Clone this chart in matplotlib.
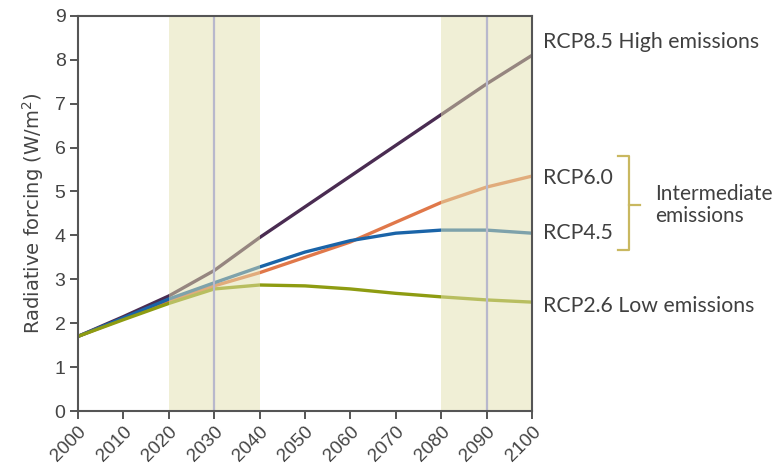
import matplotlib
matplotlib.use("Agg")
import matplotlib.pyplot as plt

# Radiative forcing pathways (W/m^2)
years = [2000, 2010, 2020, 2030, 2040, 2050, 2060, 2070, 2080, 2090, 2100]
rcp85 = [1.70, 2.15, 2.62, 3.20, 3.95, 4.65, 5.35, 6.05, 6.75, 7.45, 8.10]
rcp60 = [1.70, 2.10, 2.50, 2.85, 3.15, 3.50, 3.85, 4.30, 4.75, 5.10, 5.35]
rcp45 = [1.70, 2.12, 2.55, 2.92, 3.28, 3.62, 3.88, 4.05, 4.12, 4.12, 4.05]
rcp26 = [1.70, 2.08, 2.45, 2.78, 2.87, 2.85, 2.78, 2.68, 2.60, 2.53, 2.48]

series_names = ["RCP8.5 High emissions", "RCP6.0", "RCP4.5", "RCP2.6 Low emissions"]
series_values = [rcp85, rcp60, rcp45, rcp26]
series_colors = ["#4a2c52", "#e0784a", "#1a64a8", "#8e9c12"]
label_y = [8.4, 5.3, 4.05, 2.4]

shaded_periods = [(2020, 2040), (2080, 2100)]
marker_years = [2030, 2090]

x_ticks = list(range(2000, 2101, 10))
y_ticks = list(range(0, 10))

fig = plt.figure(figsize=(7.8, 4.66), dpi=100)
ax = fig.add_axes([0.1, 0.118, 0.582, 0.848])

for vals, col in zip(series_values, series_colors):
    ax.plot(years, vals, color=col, lw=2.4, solid_capstyle="butt", zorder=2)

# Time windows drawn over the curves so they tint them
for a, b in shaded_periods:
    ax.axvspan(a, b, color="#e2e0ae", alpha=0.5, lw=0, zorder=3)
for yr in marker_years:
    ax.axvline(yr, color="#b8b8cc", lw=1.6, zorder=4)

ax.set_xlim(2000, 2100)
ax.set_ylim(0, 9)
ax.set_xticks(x_ticks)
ax.set_yticks(y_ticks)
ax.set_xticklabels([str(t) for t in x_ticks], rotation=45, ha="right",
                   rotation_mode="anchor", fontsize=13.5, color="#444444",
                   family="Liberation Sans")
ax.set_yticklabels([str(t) for t in y_ticks], fontsize=14, color="#444444",
                   family="Liberation Sans")
ax.tick_params(axis="both", direction="out", length=6, width=1.4, color="#555555")
ax.tick_params(axis="x", pad=3)
ax.tick_params(axis="y", pad=3)
for s in ax.spines.values():
    s.set_color("#555555")
    s.set_linewidth(1.5)
    s.set_zorder(5)

ax.set_ylabel("Radiative forcing (W/m$^2$)", fontsize=14, color="#444444",
              family="DejaVu Sans", labelpad=6)

for name, ly in zip(series_names, label_y):
    ax.text(2102.5, ly, name, fontsize=15.3, color="#404040", va="center",
            ha="left", family="Lato", clip_on=False)

# Bracket grouping the intermediate pathways
bx0, bx1 = 618 / 780, 629 / 780
btop, bbot = 1 - 156 / 466, 1 - 250 / 466
bmid = 1 - 205 / 466
bcol = "#c9b860"
fig.add_artist(plt.Line2D([bx0, bx1, bx1, bx0], [btop, btop, bbot, bbot],
                          color=bcol, lw=1.6, transform=fig.transFigure))
fig.add_artist(plt.Line2D([bx1, 640 / 780], [bmid, bmid], color=bcol, lw=1.6,
                          transform=fig.transFigure))
fig.text(655 / 780, 1 - 205 / 466, "Intermediate\nemissions", fontsize=15,
         color="#404040", va="center", ha="left", family="Lato", linespacing=1.15)

fig.savefig("out.png", dpi=100)
